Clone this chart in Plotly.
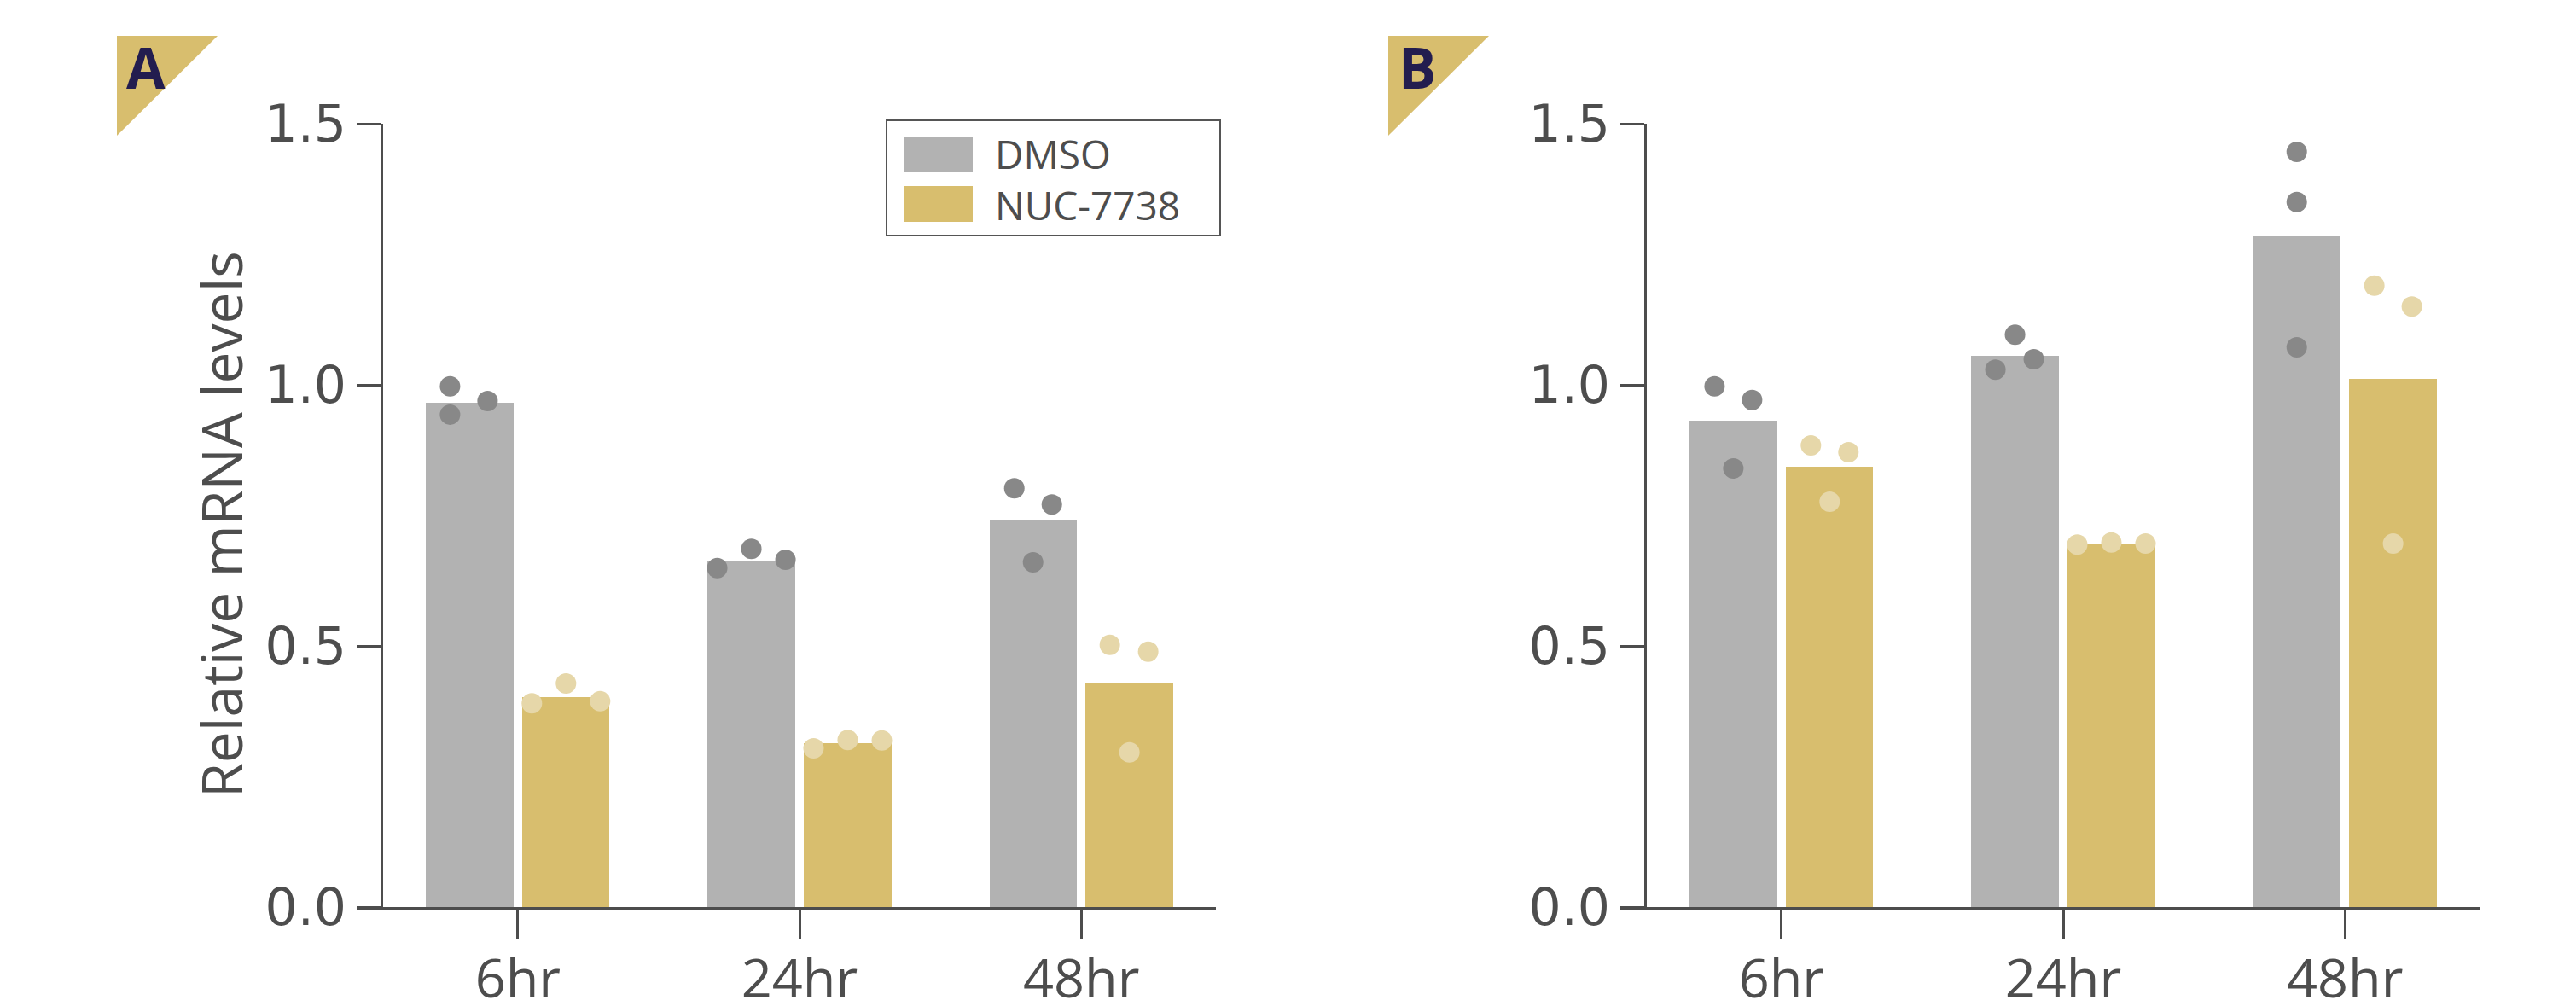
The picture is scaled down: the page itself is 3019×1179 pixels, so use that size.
import plotly.graph_objects as go

# ---------------- data ----------------
CATEGORIES = ["6hr", "24hr", "48hr"]
SERIES = ["DMSO", "NUC-7738"]
Y_TICKS = [0.0, 0.5, 1.0, 1.5]
AXIS_TITLE = "Relative mRNA levels"
PANELS = ["A", "B"]

A_DMSO_BAR = [0.966, 0.663, 0.742]
A_NUC_BAR = [0.402, 0.314, 0.428]
A_DMSO_PTS = [[0.997, 0.969, 0.943], [0.649, 0.686, 0.665], [0.802, 0.771, 0.660]]
A_NUC_PTS = [[0.390, 0.428, 0.394], [0.304, 0.320, 0.319], [0.502, 0.489, 0.296]]

B_DMSO_BAR = [0.931, 1.056, 1.286]
B_NUC_BAR = [0.843, 0.694, 1.012]
B_DMSO_PTS = [[0.997, 0.971, 0.840], [1.096, 1.029, 1.049], [1.446, 1.350, 1.072]]
B_NUC_PTS = [[0.884, 0.871, 0.776], [0.694, 0.698, 0.696], [1.190, 1.150, 0.696]]

# ---------------- layout / style constants ----------------
W, H = 3019, 1179
PAGE_OFF = 8                 # default body margin of the html page
GRAY, GOLD = "#b2b2b2", "#d8be6e"
DOT_GRAY, DOT_GOLD = "#888888", "#e6d7a9"
AXIS_COL = "#4d4d4d"
NAVY = "#231d4f"
FONT = "Open Sans"
TICK_FONT_Y = "DejaVu Sans"

# horizontal jitter of replicate dots, in pixels
A_DMSO_OFF = [[-23, 21, -23], [-40, 0, 40], [-22, 22, 0]]
A_NUC_OFF = [[-40, 0, 40], [-40, 0, 40], [-23, 22, 0]]
B_DMSO_OFF = [[-22, 22, 0], [0, -23, 22], [0, 0, 0]]
B_NUC_OFF = [[-22, 22, 0], [-40, 0, 40], [-22, 22, 0]]

X_RANGE = [-0.572, 2.478]
BAR_SHIFT = 0.171
BAR_WIDTH = 0.31
PANEL_SHIFT = 1481          # px between panels
X_DOM_PX = (418, 1425)
Y_AXIS_PX = 447
Y_DOM_PX = (145, 1063)      # top, bottom
UNIT_PX = (X_DOM_PX[1] - X_DOM_PX[0]) / (X_RANGE[1] - X_RANGE[0])


def px(x):
    return (x - PAGE_OFF) / W


def py(y):
    return (H - (y - PAGE_OFF)) / H


Y_DOM = [py(Y_DOM_PX[1]), py(Y_DOM_PX[0])]

fig = go.Figure()

panels = [
    (A_DMSO_BAR, A_NUC_BAR, A_DMSO_PTS, A_NUC_PTS, A_DMSO_OFF, A_NUC_OFF),
    (B_DMSO_BAR, B_NUC_BAR, B_DMSO_PTS, B_NUC_PTS, B_DMSO_OFF, B_NUC_OFF),
]

for p, (dbar, nbar, dpts, npts, doff, noff) in enumerate(panels):
    xa = "x" if p == 0 else "x2"
    ya = "y" if p == 0 else "y2"
    idx = list(range(len(CATEGORIES)))
    for bars, pts, off, sign, bcol, dcol, name in [
        (dbar, dpts, doff, -1, GRAY, DOT_GRAY, SERIES[0]),
        (nbar, npts, noff, 1, GOLD, DOT_GOLD, SERIES[1]),
    ]:
        centers = [i + sign * BAR_SHIFT for i in idx]
        fig.add_trace(go.Bar(
            x=centers, y=bars, width=BAR_WIDTH, name=name,
            marker=dict(color=bcol, line=dict(width=0)),
            xaxis=xa, yaxis=ya, showlegend=False,
        ))
        xs, ys = [], []
        for c, vals, offs in zip(centers, pts, off):
            for v, o in zip(vals, offs):
                xs.append(c + o / UNIT_PX)
                ys.append(v)
        fig.add_trace(go.Scatter(
            x=xs, y=ys, mode="markers", name=name,
            marker=dict(color=dcol, size=24, line=dict(width=0)),
            xaxis=xa, yaxis=ya, showlegend=False,
        ))

axis_common_x = dict(
    range=X_RANGE, tickvals=[0, 1, 2], ticktext=CATEGORIES,
    showline=True, linecolor=AXIS_COL, linewidth=4,
    ticks="outside", ticklen=33, tickwidth=3, tickcolor=AXIS_COL,
    tickfont=dict(size=63, color=AXIS_COL, family=FONT),
    ticklabelstandoff=-7,
    showgrid=False, zeroline=False, fixedrange=True, automargin=False,
)
axis_common_y = dict(
    range=[0, 1.5], domain=Y_DOM, tickvals=Y_TICKS, tickformat=".1f",
    showline=True, linecolor=AXIS_COL, linewidth=3,
    ticks="outside", ticklen=28, tickwidth=3, tickcolor=AXIS_COL,
    tickfont=dict(size=60, color=AXIS_COL, family=TICK_FONT_Y),
    showgrid=False, zeroline=False, fixedrange=True, anchor="free",
    automargin=False,
)

fig.update_layout(
    width=W, height=H,
    margin=dict(l=0, r=0, t=0, b=0, pad=0, autoexpand=False),
    paper_bgcolor="white", plot_bgcolor="rgba(0,0,0,0)",
    bargap=0, barmode="overlay", showlegend=False,
    xaxis=dict(domain=[px(X_DOM_PX[0]), px(X_DOM_PX[1])], anchor="y", **axis_common_x),
    xaxis2=dict(domain=[px(X_DOM_PX[0] + PANEL_SHIFT), px(X_DOM_PX[1] + PANEL_SHIFT)],
                anchor="y2", **axis_common_x),
    yaxis=dict(position=px(Y_AXIS_PX), **axis_common_y),
    yaxis2=dict(position=px(Y_AXIS_PX + PANEL_SHIFT), **axis_common_y),
    font=dict(family=FONT, color=AXIS_COL),
)

shapes = []
annotations = []

# y-axis title (panel A)
annotations.append(dict(
    text=AXIS_TITLE, x=px(258), y=py(615), xref="paper", yref="paper",
    showarrow=False, textangle=-90, xanchor="center", yanchor="middle",
    font=dict(size=66, color=AXIS_COL, family=FONT),
))

# panel labels (triangles + letters)
for p, letter in enumerate(PANELS):
    dx = p * 1490
    x0, x1, y0, y1 = 137 + dx, 255 + dx, 42, 159
    shapes.append(dict(
        type="path", xref="paper", yref="paper",
        path=f"M {px(x0)},{py(y0)} L {px(x1)},{py(y0)} L {px(x0)},{py(y1)} Z",
        fillcolor=GOLD, line=dict(width=0),
    ))
    annotations.append(dict(
        text=f"<b>{letter}</b>", x=px(171 + dx), y=py(78), xref="paper", yref="paper",
        showarrow=False, xanchor="center", yanchor="middle",
        font=dict(size=66, color=NAVY, family=FONT),
    ))

# manual legend (panel A)
shapes.append(dict(
    type="rect", xref="paper", yref="paper",
    x0=px(1039), x1=px(1430), y0=py(276), y1=py(141),
    line=dict(color="#555555", width=2), fillcolor="white",
))
for k, col in enumerate([GRAY, GOLD]):
    top = 160 + k * 58
    shapes.append(dict(
        type="rect", xref="paper", yref="paper",
        x0=px(1060), x1=px(1140), y0=py(top + 42), y1=py(top),
        line=dict(width=0), fillcolor=col,
    ))
annotations.append(dict(
    text="<br>".join(SERIES), x=px(1164), y=py(210), xref="paper", yref="paper",
    showarrow=False, xanchor="left", yanchor="middle", align="left",
    font=dict(size=46, color=AXIS_COL, family=FONT),
))

fig.update_layout(shapes=shapes, annotations=annotations)

fig.write_html("out.html")
